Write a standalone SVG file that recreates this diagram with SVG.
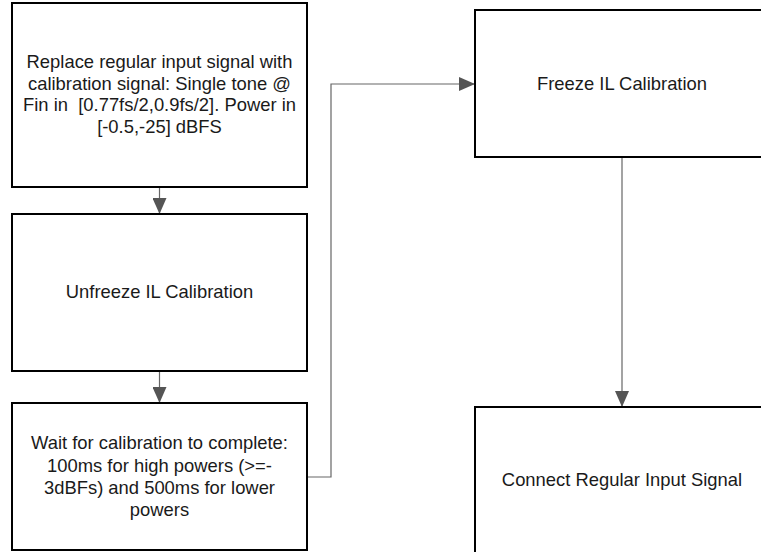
<svg xmlns="http://www.w3.org/2000/svg" width="761" height="552" viewBox="0 0 761 552">
<defs>
<style>
.box{fill:#fff;stroke:#000;stroke-width:2}
.t{font-family:"Liberation Sans",Arial,Helvetica,sans-serif;font-size:18.4px;fill:#1a1a1a;text-anchor:middle}
.c{fill:none;stroke:#666;stroke-width:1.2}
</style>
<marker id="ah" markerWidth="16" markerHeight="14" refX="16" refY="7" orient="auto" markerUnits="userSpaceOnUse">
<path d="M0,0 L16,7 L0,14 Z" fill="#555"/>
</marker>
</defs>
<rect width="761" height="552" fill="#fff"/>
<g id="connectors">
<path class="c" d="M159.5,187 V214" marker-end="url(#ah)"/>
<path class="c" d="M159.5,371 V403" marker-end="url(#ah)"/>
<path class="c" d="M307,477 H331 V84 H475" marker-end="url(#ah)"/>
<path class="c" d="M622,157 V407" marker-end="url(#ah)"/>
</g>
<g id="n1">
<rect class="box" x="12" y="3" width="295" height="184"/>
<text class="t" x="159.5" y="68">Replace regular input signal with</text>
<text class="t" x="159.5" y="89.5">calibration signal: Single tone @</text>
<text class="t" x="159.5" y="111">Fin in&#160; [0.77fs/2,0.9fs/2]. Power in</text>
<text class="t" x="159.5" y="132.5">[-0.5,-25] dBFS</text>
</g>
<g id="n2">
<rect class="box" x="12" y="214" width="295" height="157"/>
<text class="t" x="159.5" y="298">Unfreeze IL Calibration</text>
</g>
<g id="n3">
<rect class="box" x="12" y="403" width="295" height="147"/>
<text class="t" x="159.5" y="449">Wait for calibration to complete:</text>
<text class="t" x="159.5" y="471.5">100ms for high powers (&gt;=-</text>
<text class="t" x="159.5" y="494">3dBFs) and 500ms for lower</text>
<text class="t" x="159.5" y="516">powers</text>
</g>
<g id="n4">
<rect class="box" x="475" y="10" width="295" height="147"/>
<text class="t" x="622" y="90">Freeze IL Calibration</text>
</g>
<g id="n5">
<rect class="box" x="475" y="407" width="295" height="160"/>
<text class="t" x="622" y="486">Connect Regular Input Signal</text>
</g>
</svg>
